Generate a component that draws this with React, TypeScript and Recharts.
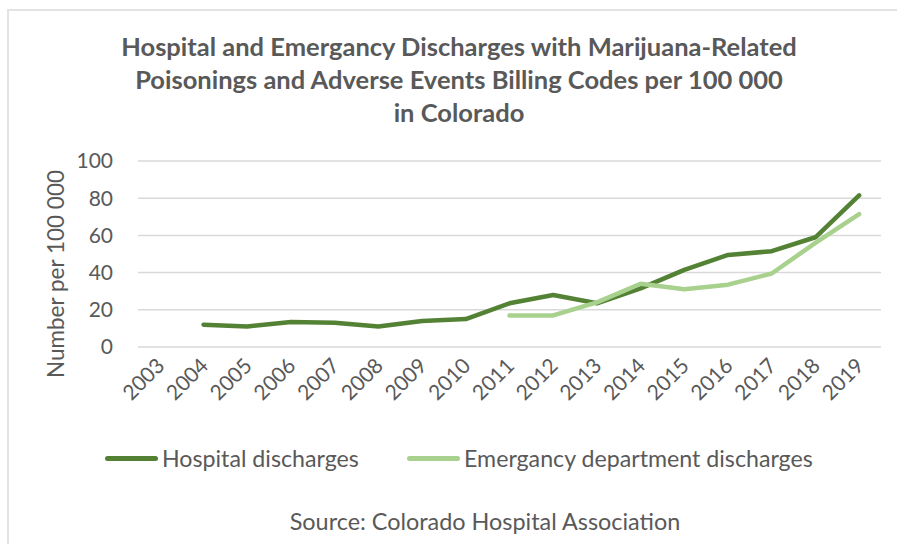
import { LineChart, Line, XAxis, YAxis, CartesianGrid } from "recharts"

const years = ["2003", "2004", "2005", "2006", "2007", "2008", "2009", "2010", "2011", "2012", "2013", "2014", "2015", "2016", "2017", "2018", "2019"]
const hospital = [null, 12, 11, 13.5, 13, 11, 14, 15, 23.5, 28, 23.5, 31.5, 41.5, 49.5, 51.5, 59, 81.5]
const emergency = [null, null, null, null, null, null, null, null, 17, 17, 24, 34, 31, 33.5, 39.5, 56, 71.5]
const yTicks = [0, 20, 40, 60, 80, 100]

const seriesNames = ["Hospital discharges", "Emergancy department discharges"]
const seriesColors = ["#548235", "#A9D18E"]

const data = years.map((year, i) => ({ year, hospital: hospital[i], emergency: emergency[i] }))

const FONT = "Lato, 'Open Sans', sans-serif"
const TEXT = "#595959"

function YearTick({ x, y, payload }: any) {
  return (
    <text
      x={x}
      y={y}
      transform={`rotate(-45 ${x} ${y})`}
      textAnchor="end"
      dominantBaseline="central"
      fill={TEXT}
      fontSize={21}
      fontFamily={FONT}
    >
      {payload.value}
    </text>
  )
}

export default function App() {
  return (
    <div style={{ position: "absolute", left: 0, top: 0, width: 897, height: 544, background: "#fff", overflow: "hidden", fontFamily: FONT, color: TEXT }}>
      <div style={{ position: "absolute", left: 7, top: 9, width: 900, height: 540, borderLeft: "2px solid #e3e3e3", borderTop: "2px solid #e3e3e3" }} />
      <div style={{ position: "absolute", left: 0, top: 30, width: 918, textAlign: "center", fontWeight: 700, fontSize: 25.5, lineHeight: "33px" }}>
        Hospital and Emergancy Discharges with Marijuana-Related
        <br />
        Poisonings and Adverse Events Billing Codes per 100 000
        <br />
        in Colorado
      </div>

      <div style={{ position: "absolute", left: 0, top: 0 }}>
        <LineChart width={897} height={544} data={data} margin={{ top: 161, right: 16, bottom: 137, left: 78 }}>
          <CartesianGrid vertical={false} stroke="#d9d9d9" strokeWidth={1.5} />
          <XAxis dataKey="year" scale="band" axisLine={false} tickLine={false} tickSize={0} tickMargin={14} interval={0} height={60} tick={<YearTick />} />
          <YAxis domain={[0, 100]} ticks={yTicks} axisLine={false} tickLine={false} tickSize={0} tickMargin={25} width={60} tick={{ fill: TEXT, fontSize: 21, fontFamily: FONT }} />
          <Line dataKey="hospital" name={seriesNames[0]} stroke={seriesColors[0]} strokeWidth={4.5} dot={false} strokeLinecap="round" strokeLinejoin="round" isAnimationActive={false} />
          <Line dataKey="emergency" name={seriesNames[1]} stroke={seriesColors[1]} strokeWidth={4.5} dot={false} strokeLinecap="round" strokeLinejoin="round" isAnimationActive={false} />
        </LineChart>
      </div>

      <div style={{ position: "absolute", left: 55, top: 274, transform: "translate(-50%, -50%) rotate(-90deg)", whiteSpace: "nowrap", fontSize: 22.5 }}>
        Number per 100 000
      </div>

      {seriesNames.map((name, i) => (
        <div key={name} style={{ position: "absolute", left: i === 0 ? 105 : 407, top: 444, height: 28, display: "flex", alignItems: "center", fontSize: 23.2, whiteSpace: "nowrap" }}>
          <span style={{ display: "inline-block", width: 53, height: 5, borderRadius: 3, background: seriesColors[i], marginRight: 4 }} />
          {name}
        </div>
      ))}

      <div style={{ position: "absolute", left: 0, top: 507, width: 970, textAlign: "center", fontSize: 23.4 }}>
        Source: Colorado Hospital Association
      </div>
    </div>
  )
}
